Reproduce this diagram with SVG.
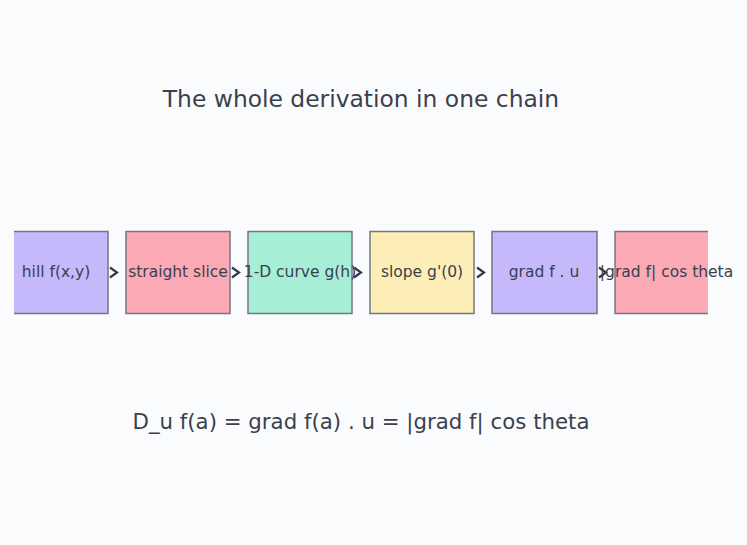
<svg xmlns="http://www.w3.org/2000/svg" width="747" height="545" viewBox="0 0 747 545">
<style>
.bg{fill:#fafbfd}
.box{stroke:#777485;stroke-width:1.5}
.lbl{font-family:"DejaVu Sans",sans-serif;font-size:15.5px;fill:#3a3f4f;text-anchor:middle;dominant-baseline:central}
.big{font-family:"DejaVu Sans",sans-serif;fill:#3a3f4f;text-anchor:middle}
.arr{fill:none;stroke:#333a4a;stroke-width:2.2}
</style>
<defs>
<clipPath id="c"><rect x="14" y="0" width="694" height="545"/></clipPath>
</defs>
<rect class="bg" x="0" y="0" width="747" height="545"/>
<text class="big" x="361" y="107" font-size="23.4">The whole derivation in one chain</text>
<g clip-path="url(#c)">
<g id="n1"><rect class="box" x="4" y="231.5" width="104" height="82" fill="#c5b9fb"/></g>
<g id="n2"><rect class="box" x="126" y="231.5" width="104" height="82" fill="#fba9b5"/></g>
<g id="n3"><rect class="box" x="248" y="231.5" width="104" height="82" fill="#a7eed6"/></g>
<g id="n4"><rect class="box" x="370" y="231.5" width="104" height="82" fill="#fdeeb8"/></g>
<g id="n5"><rect class="box" x="492" y="231.5" width="105" height="82" fill="#c5b9fb"/></g>
<g id="n6"><rect class="box" x="615" y="231.5" width="104" height="82" fill="#fba9b5"/></g>
</g>
<g id="edges">
<path class="arr" d="M110,267.5 L117,272.5 L110,277.5"/>
<path class="arr" d="M232,267.5 L239,272.5 L232,277.5"/>
<path class="arr" d="M354,267.5 L361,272.5 L354,277.5"/>
<path class="arr" d="M477,267.5 L484,272.5 L477,277.5"/>
<path class="arr" d="M599,267.5 L606,272.5 L599,277.5"/>
</g>
<text class="lbl" x="56" y="272">hill f(x,y)</text>
<text class="lbl" x="178" y="272">straight slice</text>
<text class="lbl" x="300" y="272">1-D curve g(h)</text>
<text class="lbl" x="422" y="272">slope g'(0)</text>
<text class="lbl" x="544" y="272">grad f . u</text>
<text class="lbl" x="666.5" y="272">|grad f| cos theta</text>
<text class="big" x="361" y="429" font-size="21.3">D_u f(a) = grad f(a) . u = |grad f| cos theta</text>
</svg>
